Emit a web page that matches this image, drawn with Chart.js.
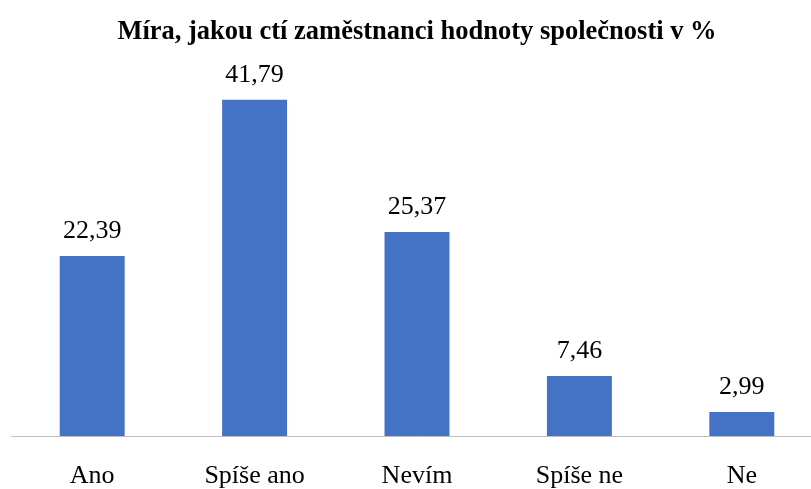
<!DOCTYPE html>
<html>
<head>
<meta charset="utf-8">
<script src="https://cdn.jsdelivr.net/npm/chart.js@4"></script>
<style>
  html, body { margin: 0; padding: 0; background: #fff; overflow: hidden; }
  #wrap { width: 834px; height: 489px; }
</style>
</head>
<body>
<div id="wrap"><canvas id="c" width="834" height="489"></canvas></div>
<script>
const categories = ["Ano", "Spíše ano", "Nevím", "Spíše ne", "Ne"];
const values = [22.39, 41.79, 25.37, 7.46, 2.99];
const chartTitle = "Míra, jakou ctí zaměstnanci hodnoty společnosti v %";

const FONT = "'Liberation Serif', 'Times New Roman', serif";

const valueLabels = {
  id: 'valueLabels',
  afterDatasetsDraw(chart) {
    const ctx = chart.ctx;
    const meta = chart.getDatasetMeta(0);
    ctx.save();
    ctx.font = "26px " + FONT;
    ctx.fillStyle = "#000";
    ctx.textAlign = "center";
    ctx.textBaseline = "alphabetic";
    meta.data.forEach((el, i) => {
      const txt = values[i].toFixed(2).replace('.', ',');
      ctx.fillText(txt, el.x, el.y - 18);
    });
    ctx.restore();
  }
};

new Chart(document.getElementById('c'), {
  type: 'bar',
  data: {
    labels: categories,
    datasets: [{
      data: values,
      backgroundColor: '#4472C4',
      borderWidth: 0,
      categoryPercentage: 1,
      barPercentage: 0.4
    }]
  },
  options: {
    responsive: false,
    animation: false,
    layout: { padding: { left: 11, right: 11, top: 0, bottom: 0 } },
    plugins: {
      legend: { display: false },
      tooltip: { enabled: false },
      title: {
        display: true,
        text: chartTitle,
        color: '#000',
        font: { family: FONT, size: 26.5, weight: 'bold', lineHeight: 1.2 },
        padding: { top: 16, bottom: 26.2 }
      }
    },
    scales: {
      x: {
        grid: { display: false, drawTicks: false },
        border: { display: true, color: '#bfbfbf', width: 1 },
        ticks: { color: '#000', font: { family: FONT, size: 26, lineHeight: 1.2 }, padding: 25, maxRotation: 0, autoSkip: false },
        afterFit(scale) { scale.height = 53; }
      },
      y: {
        display: false,
        min: 0,
        max: 45
      }
    }
  },
  plugins: [valueLabels]
});
</script>
</body>
</html>
